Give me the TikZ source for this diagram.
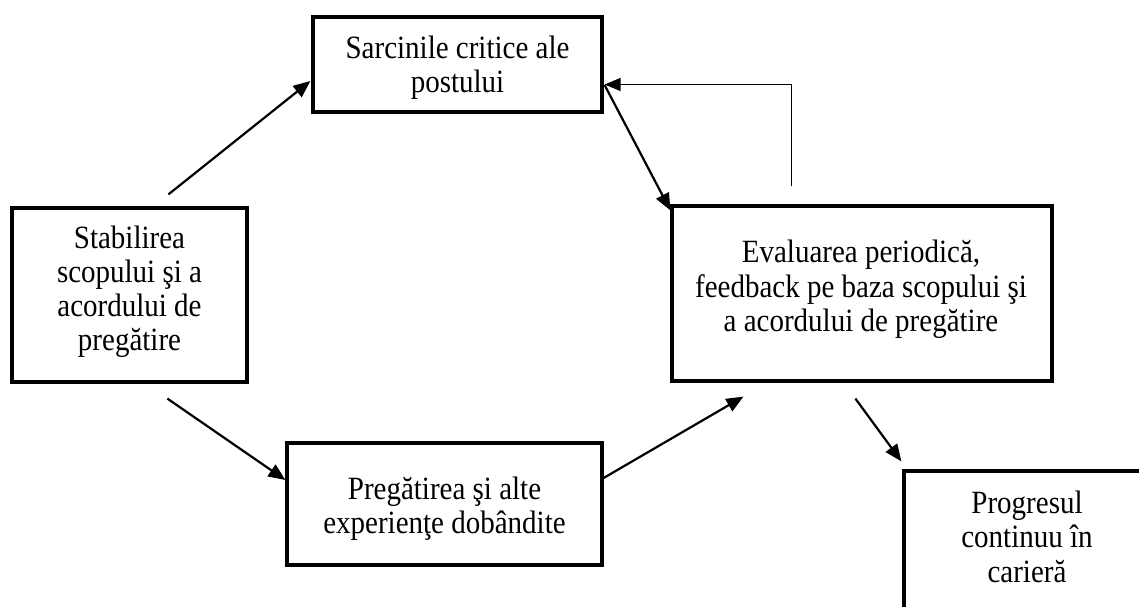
\documentclass[tikz,border=0pt]{standalone}
\usepackage{fontspec}
\usepackage{graphicx}
\setmainfont{Liberation Serif}
\usetikzlibrary{arrows.meta,calc}
\newcommand{\boxtext}[1]{\scalebox{1}[1.12]{\fontsize{29}{30.5}\selectfont\begin{tabular}{@{}c@{}}#1\end{tabular}}}
\tikzset{
  box/.style={draw=black, line width=3.2pt, rectangle, inner sep=0pt, fill=none},
  txt/.style={inner sep=0pt},
  conn/.style={draw=black, line width=2.2pt, -{Triangle[length=17pt,width=14pt]}},
  fb/.style={draw=black, line width=1.3pt, -{Triangle[length=16pt,width=13pt]}}
}
\begin{document}
\begin{tikzpicture}[x=1pt,y=-1pt]
\useasboundingbox (0,0) rectangle (1139,606);
\fill[white] (0,0) rectangle (1139,606);

% boxes
\node[box, minimum width=289pt, minimum height=95pt] (sarc) at (457.5,64.5) {};
\node[box, minimum width=235pt, minimum height=174pt] (stab) at (129.5,295) {};
\node[box, minimum width=380pt, minimum height=175pt] (eval) at (862,293.5) {};
\node[box, minimum width=315pt, minimum height=122pt] (preg) at (444.5,504) {};
\node[box, minimum width=246pt, minimum height=159pt] (prog) at (1027,550.5) {};

% texts
\node[txt] (sarcT) at (457.5,68.3) {\boxtext{Sarcinile critice ale\\postului}};
\node[txt] (stabT) at (129.5,292.5) {\boxtext{Stabilirea\\scopului şi a\\acordului de\\pregătire}};
\node[txt] (evalT) at (861,290.3) {\boxtext{Evaluarea periodică,\\feedback pe baza scopului şi\\a acordului de pregătire}};
\node[txt] (pregT) at (444.5,509.3) {\boxtext{Pregătirea şi alte\\experienţe dobândite}};
\node[txt] (progT) at (1027,541) {\boxtext{Progresul\\continuu în\\carieră}};

% connectors
\draw[conn] ($(stab.north west)+(158,-12)$) -- ($(sarc.west)+(-1,16.5)$);
\draw[conn] ($(stab.south west)+(157,15)$) -- ($(preg.west)+(0,-24)$);
\draw[conn] ($(preg.east)+(0,-26)$) -- ($(eval.south west)+(73,14)$);
\draw[conn] ($(eval.south west)+(185,16)$) -- ($(prog.north west)+(-1,-8)$);
\draw[conn] ($(sarc.east)+(1,20.5)$) -- ($(eval.north west)+(0,6)$);
\coordinate (fbstart) at ($(eval.north west)+(121,-18)$);
\draw[fb] (fbstart) |- ($(sarc.east)+(1,20)$);
\end{tikzpicture}
\end{document}
